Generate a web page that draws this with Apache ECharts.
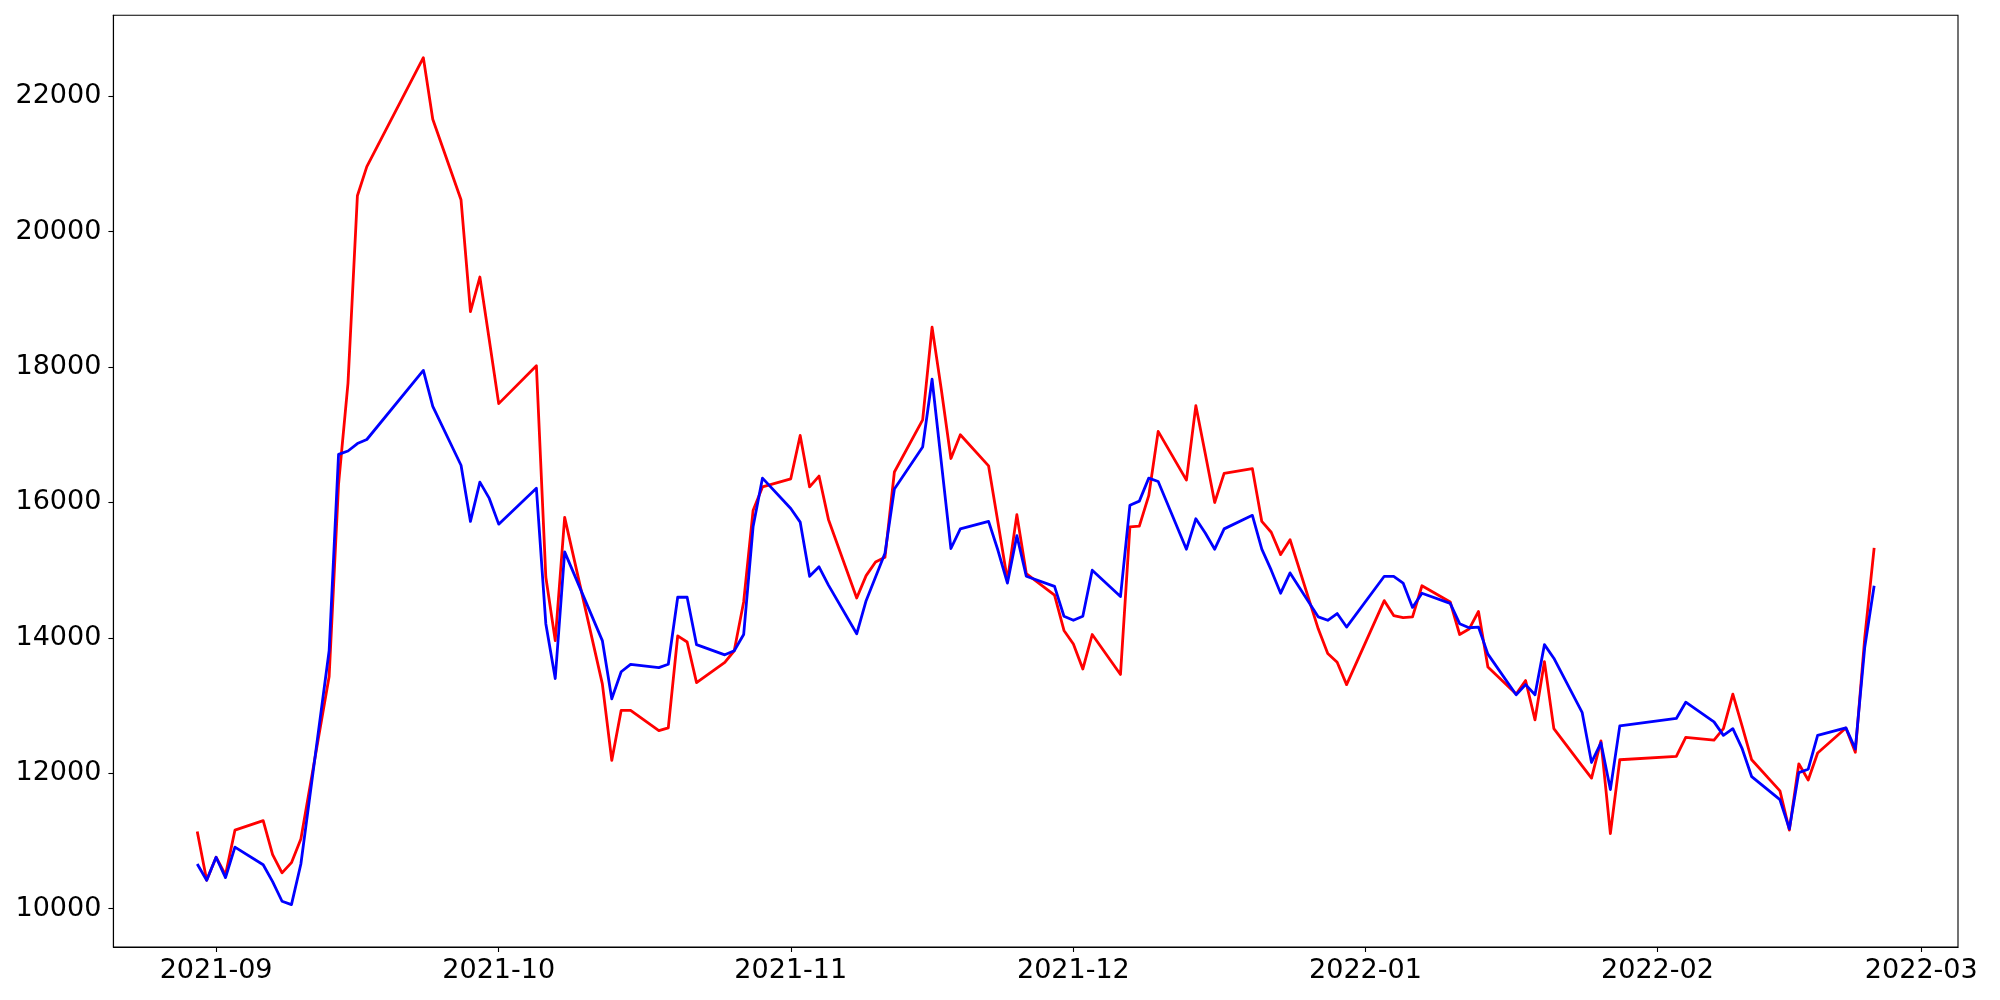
<!DOCTYPE html>
<html>
<head>
<meta charset="utf-8">
<script src="https://cdn.jsdelivr.net/npm/echarts@6/dist/echarts.min.js"></script>
<style>
html,body{margin:0;padding:0;background:#fff;}
#chart{width:2000px;height:1000px;}
</style>
</head>
<body>
<div id="chart"></div>
<script>
const dates = [
'2021-08-30','2021-08-31','2021-09-01','2021-09-02','2021-09-03',
'2021-09-06','2021-09-07','2021-09-08','2021-09-09','2021-09-10',
'2021-09-13','2021-09-14','2021-09-15','2021-09-16','2021-09-17',
'2021-09-23','2021-09-24','2021-09-27','2021-09-28','2021-09-29','2021-09-30','2021-10-01',
'2021-10-05','2021-10-06','2021-10-07','2021-10-08',
'2021-10-12','2021-10-13','2021-10-14','2021-10-15',
'2021-10-18','2021-10-19','2021-10-20','2021-10-21','2021-10-22',
'2021-10-25','2021-10-26','2021-10-27','2021-10-28','2021-10-29',
'2021-11-01','2021-11-02','2021-11-03','2021-11-04','2021-11-05',
'2021-11-08','2021-11-09','2021-11-10','2021-11-11','2021-11-12',
'2021-11-15','2021-11-16','2021-11-17','2021-11-18','2021-11-19',
'2021-11-22','2021-11-23','2021-11-24','2021-11-25','2021-11-26',
'2021-11-29','2021-11-30','2021-12-01','2021-12-02','2021-12-03',
'2021-12-06','2021-12-07','2021-12-08','2021-12-09','2021-12-10',
'2021-12-13','2021-12-14','2021-12-15','2021-12-16','2021-12-17',
'2021-12-20','2021-12-21','2021-12-22','2021-12-23','2021-12-24',
'2021-12-27','2021-12-28','2021-12-29','2021-12-30',
'2022-01-03','2022-01-04','2022-01-05','2022-01-06','2022-01-07',
'2022-01-10','2022-01-11','2022-01-12','2022-01-13','2022-01-14',
'2022-01-17','2022-01-18','2022-01-19','2022-01-20','2022-01-21',
'2022-01-24','2022-01-25','2022-01-26','2022-01-27','2022-01-28',
'2022-02-03','2022-02-04',
'2022-02-07','2022-02-08','2022-02-09','2022-02-10','2022-02-11',
'2022-02-14','2022-02-15','2022-02-16','2022-02-17','2022-02-18',
'2022-02-21','2022-02-22','2022-02-23','2022-02-24'
];

const redValues = [
11140,10420,10760,10500,11160,
11300,10800,10530,10680,11030,
13430,16270,17760,20530,20960,
22570,21660,20470,18820,19330,18400,17460,
18020,14900,13960,15780,
13320,12190,12930,12930,
12630,12670,14030,13940,13340,
13640,13810,14530,15880,16230,
16350,16990,16230,16390,15750,
14590,14920,15120,15190,16450,
17220,18590,17650,16650,17000,
16540,15700,14850,15820,14950,
14630,14110,13910,13540,14050,
13460,15640,15650,16100,17050,
16330,17430,16720,16000,16430,
16500,15720,15560,15230,15450,
14130,13770,13640,13310,
14550,14330,14300,14310,14770,
14530,14050,14130,14390,13570,
13170,13370,12790,13650,12660,
12110,11930,12480,11110,12200,
12250,12530,
12490,12660,13170,12690,12200,
11740,11160,12140,11900,12300,
12670,12310,14000,15330
];

const blueValues = [
10660,10420,10760,10460,10910,
10650,10400,10110,10060,10660,
13810,16710,16760,16870,16930,
17950,17420,16550,15720,16300,16060,15680,
16210,14210,13400,15270,
13960,13100,13500,13610,
13560,13610,14600,14600,13900,
13750,13810,14050,15640,16360,
15910,15710,14910,15050,14780,
14060,14550,14900,15250,16200,
16820,17820,16570,15320,15610,
15720,15290,14810,15510,14910,
14760,14320,14260,14320,15000,
14610,15960,16020,16360,16310,
15310,15760,15550,15310,15610,
15810,15310,15000,14660,14960,
14310,14260,14360,14160,
14910,14910,14810,14450,14660,
14510,14210,14150,14160,13760,
13160,13310,13160,13900,13700,
12900,12160,12450,11760,12700,
12810,13050,
12760,12560,12660,12360,11950,
11610,11180,12010,12060,12560,
12670,12360,13860,14770
];

const yTickValues = [10000,12000,14000,16000,18000,20000,22000];
const xTickLabels = ['2021-09','2021-10','2021-11','2021-12','2022-01','2022-02','2022-03'];

function toTs(s){
  const p = s.split('-').map(Number);
  return Date.UTC(p[0], p[1]-1, p[2] || 1);
}

const ts = dates.map(toTs);
const xSpan = ts[ts.length-1] - ts[0];
const xMin = ts[0] - 0.05*xSpan;
const xMax = ts[ts.length-1] + 0.05*xSpan;

const allVals = redValues.concat(blueValues);
const vMin = Math.min.apply(null, allVals), vMax = Math.max.apply(null, allVals);
const ySpan = vMax - vMin;
const yMin = vMin - 0.05*ySpan;
const yMax = vMax + 0.05*ySpan;

const xTickTs = xTickLabels.map(toTs);

const FONT = 'DejaVu Sans';
const chart = echarts.init(document.getElementById('chart'), null, {renderer:'canvas'});
chart.setOption({
  animation: false,
  backgroundColor: '#ffffff',
  grid: {
    left: 113.4, right: 42, top: 15.3, bottom: 53,
    show: true, borderColor: '#000', borderWidth: 1.1, backgroundColor: 'transparent'
  },
  xAxis: {
    type: 'value',
    min: xMin, max: xMax,
    splitLine: {show:false},
    axisLine: {show:true, lineStyle:{color:'#000', width:1.1}},
    axisTick: {show:true, inside:false, length:5, lineStyle:{color:'#000', width:1.1}, customValues: xTickTs},
    axisLabel: {
      show:true, margin: 10, color:'#000', fontFamily: FONT, fontSize: 27,
      customValues: xTickTs,
      formatter: function(v){
        const i = xTickTs.indexOf(v);
        if (i >= 0) return xTickLabels[i];
        const d = new Date(v);
        const m = d.getUTCMonth()+1;
        return d.getUTCFullYear() + '-' + (m<10?'0':'') + m;
      }
    }
  },
  yAxis: {
    type: 'value',
    min: yMin, max: yMax,
    splitLine: {show:false},
    axisLine: {show:true, lineStyle:{color:'#000', width:1.1}},
    axisTick: {show:true, inside:false, length:5, lineStyle:{color:'#000', width:1.1}, customValues: yTickValues},
    axisLabel: {
      show:true, margin: 12, color:'#000', fontFamily: FONT, fontSize: 27,
      customValues: yTickValues,
      formatter: function(v){ return String(Math.round(v)); }
    }
  },
  series: [
    {
      type: 'line', name: 'red',
      data: dates.map((d,i)=>[ts[i], redValues[i]]),
      showSymbol: false, symbol: 'none',
      lineStyle: {color:'#ff0000', width:2.8, join:'round'},
      itemStyle: {color:'#ff0000'},
      z: 2
    },
    {
      type: 'line', name: 'blue',
      data: dates.map((d,i)=>[ts[i], blueValues[i]]),
      showSymbol: false, symbol: 'none',
      lineStyle: {color:'#0000ff', width:2.8, join:'round'},
      itemStyle: {color:'#0000ff'},
      z: 3
    }
  ]
});
</script>
</body>
</html>
